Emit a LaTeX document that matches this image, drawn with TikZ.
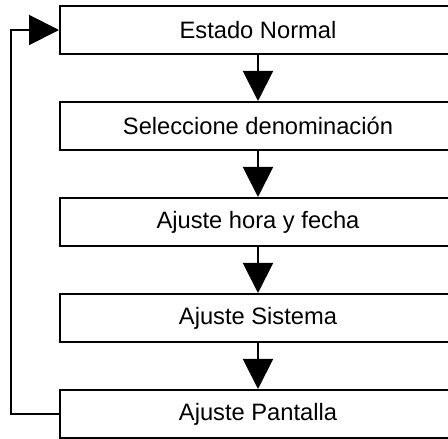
\documentclass[tikz,border=0pt]{standalone}
\usepackage{fontspec}
\setmainfont{Liberation Sans}
\usetikzlibrary{arrows.meta}
\begin{document}
\begin{tikzpicture}[x=1pt,y=1pt,
  stepbox/.style={draw, line width=2pt, minimum width=396pt, minimum height=48pt, inner sep=0pt, font=\fontsize{23.7}{28}\selectfont},
  conn/.style={line width=2pt, -{Triangle[length=30pt,width=30pt]}}]
\useasboundingbox (0,0) rectangle (448,439);
\node[stepbox] (b1) at (258,409) {Estado Normal};
\node[stepbox] (b2) at (258,313) {Seleccione denominación};
\node[stepbox] (b3) at (258,217) {Ajuste hora y fecha};
\node[stepbox] (b4) at (258,121) {Ajuste Sistema};
\node[stepbox] (b5) at (258,25) {Ajuste Pantalla};
\draw[conn] (b1) -- (b2);
\draw[conn] (b2) -- (b3);
\draw[conn] (b3) -- (b4);
\draw[conn] (b4) -- (b5);
\draw[conn] (b5.west) -- ++(-48,0) |- (b1.west);
\end{tikzpicture}
\end{document}
